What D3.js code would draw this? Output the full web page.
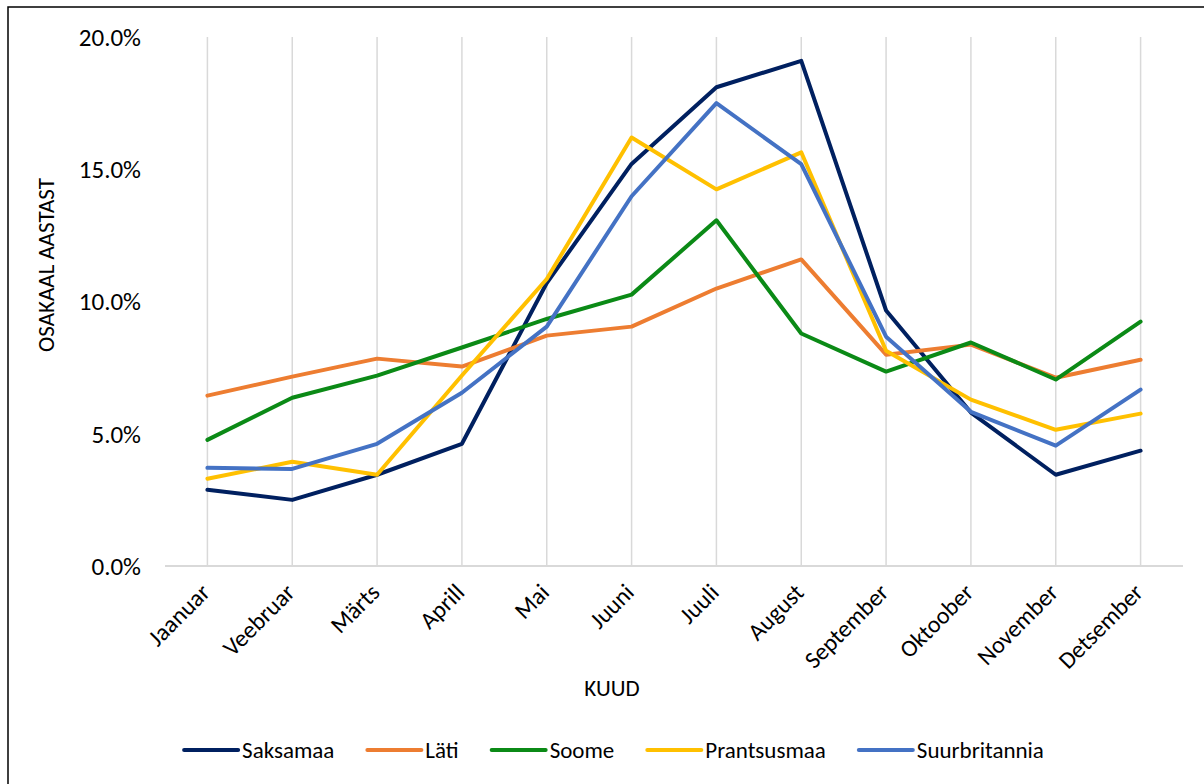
<!DOCTYPE html>
<html>
<head>
<meta charset="utf-8">
<script src="https://cdn.jsdelivr.net/npm/d3@7/dist/d3.min.js"></script>
<style>
  html, body { margin: 0; padding: 0; background: #fff; }
  svg { display: block; }
  text { font-family: Carlito, Calibri, Lato, "Open Sans", sans-serif; fill: #000; }
</style>
</head>
<body>
<svg id="chart" width="1204" height="784"></svg>
<script>
const months = ["Jaanuar","Veebruar","Märts","Aprill","Mai","Juuni","Juuli","August","September","Oktoober","November","Detsember"];
const seriesNames = ["Saksamaa","Läti","Soome","Prantsusmaa","Suurbritannia"];
const seriesColors = ["#002060","#ED7D31","#0B8A16","#FFC000","#4472C4"];
const saksamaa      = [2.88, 2.50, 3.45, 4.62, 10.70, 15.20, 18.10, 19.10, 9.66, 5.80, 3.45, 4.36];
const lati          = [6.44, 7.16, 7.84, 7.54, 8.71, 9.05, 10.49, 11.59, 7.99, 8.37, 7.12, 7.80];
const soome         = [4.77, 6.36, 7.20, 8.26, 9.34, 10.26, 13.07, 8.79, 7.35, 8.45, 7.05, 9.24];
const prantsusmaa   = [3.30, 3.94, 3.45, 7.20, 10.85, 16.20, 14.24, 15.64, 8.14, 6.29, 5.15, 5.76];
const suurbritannia = [3.71, 3.67, 4.62, 6.55, 9.05, 13.98, 17.50, 15.19, 8.67, 5.83, 4.55, 6.67];
const yTicks = [0, 5, 10, 15, 20];
const xTitle = "KUUD";
const yTitle = "OSAKAAL AASTAST";

const allSeries = [saksamaa, lati, soome, prantsusmaa, suurbritannia];

const svg = d3.select("#chart");

// outer border (top and left visible)
svg.append("rect")
  .attr("x", 8).attr("y", 7)
  .attr("width", 1204).attr("height", 800)
  .attr("fill", "none").attr("stroke", "#000").attr("stroke-width", 1.5);

const plot = { left: 165, right: 1183, top: 37, bottom: 566 };

const x = d3.scaleBand().domain(months).range([plot.left, plot.right]);
const y = d3.scaleLinear().domain([0, 20]).range([plot.bottom, plot.top]);
const cx = m => x(m) + x.bandwidth() / 2;

// vertical gridlines at categories
svg.append("g").selectAll("line").data(months).join("line")
  .attr("x1", d => cx(d)).attr("x2", d => cx(d))
  .attr("y1", y(20)).attr("y2", plot.bottom)
  .attr("stroke", "#d9d9d9").attr("stroke-width", 1.5);

// baseline
svg.append("line")
  .attr("x1", plot.left).attr("x2", plot.right)
  .attr("y1", y(0)).attr("y2", y(0))
  .attr("stroke", "#d9d9d9").attr("stroke-width", 2);

// y tick labels
svg.append("g").selectAll("text").data(yTicks).join("text")
  .attr("x", 141).attr("y", d => y(d))
  .attr("dy", "0.35em")
  .attr("text-anchor", "end")
  .attr("font-size", 25)
  .text(d => d.toFixed(1) + "%");

// x tick labels
svg.append("g").selectAll("text").data(months).join("text")
  .attr("text-anchor", "end")
  .attr("dy", "0.35em")
  .attr("font-size", 24)
  .attr("transform", d => `translate(${cx(d) - 2},${plot.bottom + 22}) rotate(-45)`)
  .text(d => d);

// axis titles
svg.append("text")
  .attr("x", 612).attr("y", 688)
  .attr("dy", "0.35em")
  .attr("text-anchor", "middle")
  .attr("font-size", 23)
  .text(xTitle);

svg.append("text")
  .attr("transform", `translate(46,265) rotate(-90)`)
  .attr("dy", "0.35em")
  .attr("text-anchor", "middle")
  .attr("font-size", 23)
  .text(yTitle);

// lines
const line = d3.line()
  .x((d, i) => cx(months[i]))
  .y(d => y(d));

svg.append("g").selectAll("path").data(allSeries).join("path")
  .attr("d", d => line(d))
  .attr("fill", "none")
  .attr("stroke", (d, i) => seriesColors[i])
  .attr("stroke-width", 4)
  .attr("stroke-linejoin", "round")
  .attr("stroke-linecap", "round");

// legend
const legend = svg.append("g");
const items = legend.selectAll("g").data(seriesNames).join("g");
items.append("line")
  .attr("x1", 0).attr("x2", 54).attr("y1", 0).attr("y2", 0)
  .attr("stroke", (d, i) => seriesColors[i])
  .attr("stroke-width", 4)
  .attr("stroke-linecap", "round");
items.append("text")
  .attr("x", 58).attr("y", 0).attr("dy", "0.35em")
  .attr("font-size", 23)
  .text(d => d);
let offset = 0;
items.each(function() {
  const g = d3.select(this);
  const w = 58 + g.select("text").node().getComputedTextLength();
  g.attr("transform", `translate(${offset},0)`);
  offset += w + 33;
});
const totalW = offset - 33;
legend.attr("transform", `translate(${614 - totalW / 2},750)`);
</script>
</body>
</html>
